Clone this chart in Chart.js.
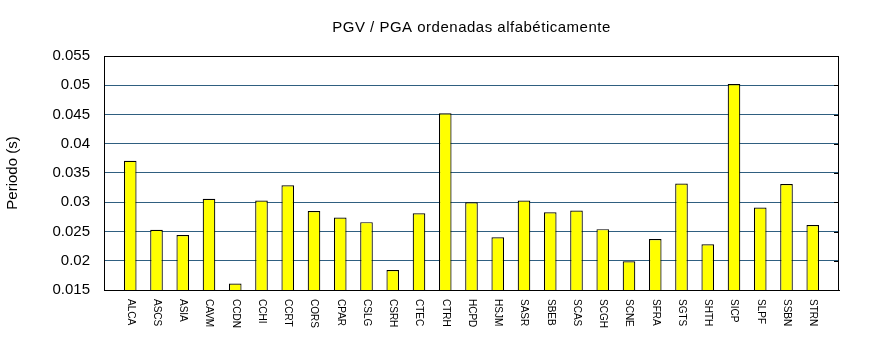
<!DOCTYPE html>
<html>
<head>
<meta charset="utf-8">
<script src="https://cdn.jsdelivr.net/npm/chart.js@4/dist/chart.umd.min.js"></script>
<style>
  html, body { margin: 0; padding: 0; background: #fff; }
  #wrap { width: 870px; height: 350px; }
</style>
</head>
<body>
<div id="wrap"><canvas id="pgv-chart"></canvas></div>
<script>
const title = "PGV / PGA ordenadas alfabéticamente"

const stations = [
  "ALCA", "ASCS", "ASIA", "CAVM", "CCDN", "CCHI", "CCRT", "CORS", "CPAR",
  "CSLG", "CSRH", "CTEC", "CTRH", "HCPD", "HSJM", "SASR", "SBEB", "SCAS",
  "SCGH", "SCNE", "SFRA", "SGTS", "SHTH", "SICP", "SLPF", "SSBN", "STRN"
]

const periods = [
  0.0371, 0.0253, 0.0244, 0.0306, 0.0161, 0.0303, 0.0329, 0.0285, 0.0274,
  0.0266, 0.0184, 0.0281, 0.0452, 0.0300, 0.0240, 0.0303, 0.0283, 0.0286,
  0.0254, 0.0199, 0.0237, 0.0332, 0.0228, 0.0502, 0.0291, 0.0331, 0.0261
]

const yMin = 0.015
const yMax = 0.055
const yStep = 0.005

// empty slot on each side so the bars sit one step in from the frame
const labels = ["", ...stations, ""]
const values = [null, ...periods, null]

const font = "'Liberation Sans', Arial, sans-serif"

// title, frame, inner ticks on the right side and vertical station names
const framePlugin = {
  id: "frame",
  afterDraw(chart) {
    const { ctx, chartArea: a, scales } = chart
    ctx.save()

    ctx.fillStyle = "#000"
    ctx.font = "15px " + font
    ctx.letterSpacing = "0.5px"
    ctx.textAlign = "center"
    ctx.textBaseline = "alphabetic"
    ctx.fillText(title, (a.left + a.right) / 2, 32)
    ctx.letterSpacing = "0px"

    ctx.strokeStyle = "#000"
    ctx.lineWidth = 1
    ctx.strokeRect(Math.round(a.left) + 0.5, Math.round(a.top) + 0.5,
      Math.round(a.right - a.left) - 1, Math.round(a.bottom - a.top))

    scales.y.ticks.forEach(t => {
      const y = Math.round(scales.y.getPixelForValue(t.value)) + 0.5
      ctx.beginPath()
      ctx.moveTo(a.right - 5, y)
      ctx.lineTo(a.right, y)
      ctx.stroke()
    })

    ctx.font = "10px " + font
    ctx.textAlign = "left"
    ctx.textBaseline = "middle"
    labels.forEach((lab, i) => {
      if (!lab) return
      const x = scales.x.getPixelForValue(i)
      ctx.save()
      ctx.translate(x, a.bottom + 9)
      ctx.rotate(Math.PI / 2)
      ctx.fillText(lab, 0, 0)
      ctx.restore()
    })
    ctx.restore()
  }
}

new Chart(document.getElementById("pgv-chart"), {
  type: "bar",
  data: {
    labels,
    datasets: [{
      label: "PGV / PGA",
      data: values,
      backgroundColor: "#ffff00",
      borderColor: "#000",
      borderWidth: 1.2,
      borderSkipped: "start",
      categoryPercentage: 1,
      barPercentage: 0.48
    }]
  },
  options: {
    responsive: true,
    maintainAspectRatio: false,
    animation: false,
    layout: { padding: { left: 0, right: 31, top: 56, bottom: 0 } },
    plugins: {
      legend: { display: false },
      tooltip: { enabled: false },
      title: { display: false }
    },
    scales: {
      x: {
        offset: false,
        afterFit: s => { s.height = 60 },
        ticks: { display: false },
        grid: { display: false, drawTicks: false },
        border: { display: true, color: "#000" }
      },
      y: {
        min: yMin,
        max: yMax,
        afterFit: s => { s.width = 104 },
        ticks: {
          stepSize: yStep,
          padding: 14,
          color: "#000",
          font: { family: font, size: 15 },
          callback: v => String(+v.toFixed(3))
        },
        grid: { color: "#2f5f80", lineWidth: 1, drawTicks: false },
        border: { display: true, color: "#000" },
        title: {
          display: true,
          text: "Periodo (s)",
          color: "#000",
          font: { family: font, size: 15 },
          padding: { top: 4, bottom: 0 }
        }
      }
    }
  },
  plugins: [framePlugin]
})
</script>
</body>
</html>
